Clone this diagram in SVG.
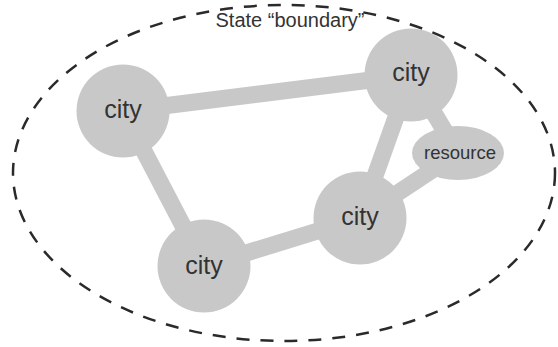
<svg xmlns="http://www.w3.org/2000/svg" width="558" height="347" viewBox="0 0 558 347">
<style>
.node{fill:#c8c8c8}
.lbl{font-family:"Liberation Sans",Arial,sans-serif;fill:#333;text-anchor:middle}
.edge{stroke:#c8c8c8;stroke-width:17;stroke-linecap:butt}
</style>
<rect width="558" height="347" fill="#fff"/>
<g id="boundary">
<ellipse cx="284" cy="173" rx="271" ry="168" fill="none" stroke="#2a2a2a" stroke-width="2.5" stroke-dasharray="13 11"/>
<text class="lbl" x="290" y="27" font-size="20">State “boundary”</text>
</g>
<g id="connectors">
<line class="edge" x1="123" y1="111" x2="411" y2="75"/>
<line class="edge" x1="123" y1="111" x2="204" y2="266"/>
<line class="edge" x1="204" y1="266" x2="360" y2="218"/>
<line class="edge" x1="360" y1="218" x2="411" y2="75"/>
<line class="edge" x1="360" y1="218" x2="458" y2="153"/>
<line class="edge" x1="411" y1="75" x2="458" y2="153"/>
</g>
<g id="city1"><circle class="node" cx="123" cy="111" r="46.5"/><text class="lbl" x="123" y="118" font-size="25">city</text></g>
<g id="city2"><circle class="node" cx="411" cy="75" r="46.5"/><text class="lbl" x="411" y="81" font-size="25">city</text></g>
<g id="city3"><circle class="node" cx="360" cy="218" r="46.5"/><text class="lbl" x="360" y="225" font-size="25">city</text></g>
<g id="city4"><circle class="node" cx="204" cy="266" r="46.5"/><text class="lbl" x="204" y="274" font-size="25">city</text></g>
<g id="resource"><ellipse class="node" cx="458" cy="153" rx="46" ry="27"/><text class="lbl" x="460" y="159" font-size="18.5">resource</text></g>
</svg>
